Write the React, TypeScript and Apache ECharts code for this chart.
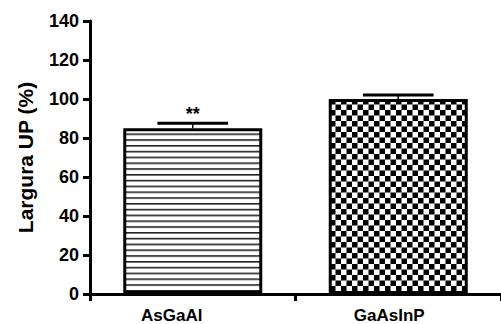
import React, { useEffect, useRef } from "react";
import * as echarts from "echarts";

const categories = ["AsGaAl", "GaAsInP"];
const values = [85, 100];
const errors = [2.6, 2];
const significance = ["**", ""];
const yTicks = { min: 0, max: 140, interval: 20 };
const axisTitle = "Largura UP (%)";

const FONT = "'Liberation Sans', Arial, sans-serif";

function svgUrl(svg: string) {
  return "data:image/svg+xml;charset=utf-8," + encodeURIComponent(svg);
}

const stripeSvg = svgUrl(
  "<svg xmlns='http://www.w3.org/2000/svg' width='10' height='5.8'><rect width='10' height='5.8' fill='#ffffff'/><rect y='0' width='10' height='1.6' fill='#222222'/></svg>"
);
const checkerSvg = svgUrl(
  "<svg xmlns='http://www.w3.org/2000/svg' width='11' height='11'><rect width='11' height='11' fill='#ffffff'/><rect x='0' y='0' width='5.5' height='5.5' fill='#000000'/><rect x='5.5' y='5.5' width='5.5' height='5.5' fill='#000000'/></svg>"
);

export default function App() {
  const ref = useRef<HTMLDivElement>(null);
  useEffect(() => {
    if (!ref.current) return;
    const chart = echarts.init(ref.current, null, { renderer: "svg" });
    const patterns = [
      { image: stripeSvg, repeat: "repeat", imageWidth: 10, imageHeight: 5.8 },
      { image: checkerSvg, repeat: "repeat", imageWidth: 11, imageHeight: 11 },
    ];
    chart.setOption({
      animation: false,
      backgroundColor: "#ffffff",
      grid: { left: 90, top: 21, width: 417, height: 274 },
      xAxis: {
        type: "category",
        data: categories,
        axisLine: { lineStyle: { color: "#000", width: 3 } },
        axisTick: { show: true, length: 7, lineStyle: { color: "#000", width: 3 } },
        axisLabel: {
          margin: 13,
          color: "#000",
          formatter: (v: string, i: number) => (i === 0 ? `{a|${v}}` : `{b|${v}}`),
          rich: {
            a: { fontFamily: FONT, fontWeight: "bold", fontSize: 17, color: "#000", padding: [0, 42, 0, 0] },
            b: { fontFamily: FONT, fontWeight: "bold", fontSize: 17, color: "#000", padding: [0, 18, 0, 0] },
          },
        },
      },
      yAxis: {
        type: "value",
        min: yTicks.min,
        max: yTicks.max,
        interval: yTicks.interval,
        name: axisTitle,
        nameLocation: "middle",
        nameRotate: 90,
        nameGap: 54,
        nameTextStyle: { fontFamily: FONT, fontWeight: "bold", fontSize: 21, color: "#000" },
        axisLine: { show: true, lineStyle: { color: "#000", width: 3 } },
        axisTick: { show: true, length: 7, lineStyle: { color: "#000", width: 3 } },
        splitLine: { show: false },
        axisLabel: { fontFamily: FONT, fontWeight: "bold", fontSize: 18, color: "#000", margin: 11 },
      },
      series: [
        {
          type: "bar",
          barWidth: 139,
          data: values.map((v, i) => ({
            value: v,
            itemStyle: { color: patterns[i], borderColor: "#000", borderWidth: 3 },
          })),
        },
        {
          type: "custom",
          data: values.map((v, i) => [i, v, errors[i]]),
          z: 5,
          renderItem: (params: any, api: any) => {
            const idx = api.value(0);
            const v = api.value(1);
            const e = api.value(2);
            const base = api.coord([idx, v]);
            const top = api.coord([idx, v + e]);
            const half = api.size([1, 0])[0] * 0.172;
            const children: any[] = [
              {
                type: "line",
                shape: { x1: base[0], y1: base[1], x2: top[0], y2: top[1] },
                style: { stroke: "#000", lineWidth: 1.5 },
              },
              {
                type: "line",
                shape: { x1: top[0] - half, y1: top[1], x2: top[0] + half, y2: top[1] },
                style: { stroke: "#000", lineWidth: 3 },
              },
            ];
            const s = significance[idx];
            if (s) {
              children.push({
                type: "text",
                x: top[0],
                y: top[1] - 18,
                style: {
                  text: s,
                  fontFamily: FONT,
                  fontWeight: "bold",
                  fontSize: 18,
                  fill: "#000",
                  align: "center",
                  verticalAlign: "top",
                },
              });
            }
            return { type: "group", children };
          },
        },
      ],
    });
    return () => chart.dispose();
  }, []);
  return (
    <div
      ref={ref}
      style={{ position: "absolute", left: 0, top: 0, width: 501, height: 324 }}
    />
  );
}
